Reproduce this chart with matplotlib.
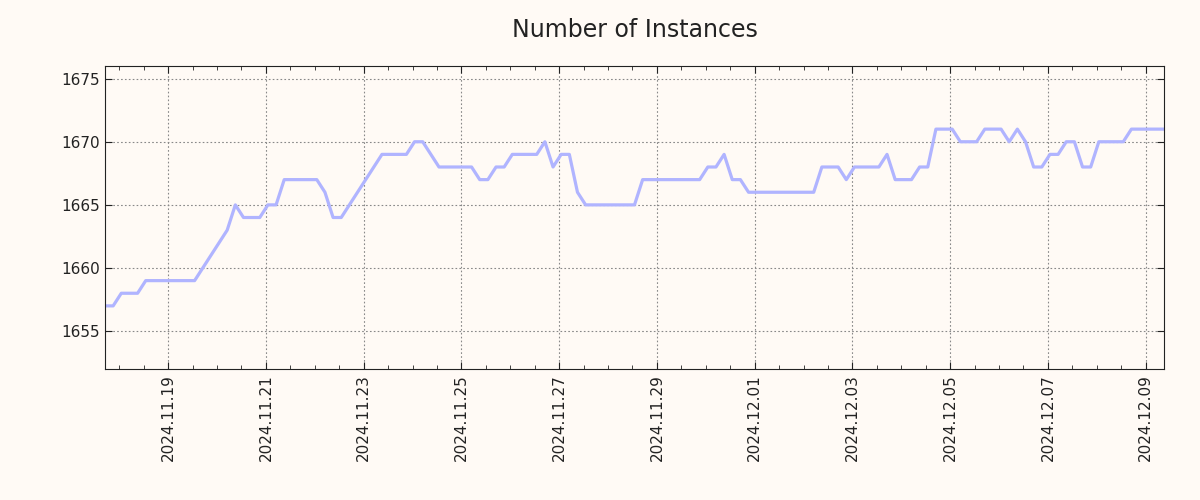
import pandas as pd
import matplotlib
matplotlib.use("Agg")
import matplotlib.pyplot as plt
import matplotlib.dates as mdates

# instance count, sampled every 4 hours
start = "2024-11-17 17:00"
instances = [
    1657, 1657, 1658, 1658, 1658, 1659, 1659, 1659, 1659, 1659, 1659, 1659,
    1660, 1661, 1662, 1663, 1665, 1664, 1664, 1664, 1665, 1665,
    1667, 1667, 1667, 1667, 1667, 1666, 1664, 1664,
    1665, 1666, 1667, 1668, 1669, 1669, 1669, 1669, 1670, 1670, 1669,
    1668, 1668, 1668, 1668, 1668, 1667, 1667, 1668, 1668,
    1669, 1669, 1669, 1669, 1670, 1668, 1669, 1669, 1666,
    1665, 1665, 1665, 1665, 1665, 1665, 1665,
    1667, 1667, 1667, 1667, 1667, 1667, 1667, 1667, 1668, 1668, 1669, 1667, 1667,
    1666, 1666, 1666, 1666, 1666, 1666, 1666, 1666, 1666,
    1668, 1668, 1668, 1667, 1668, 1668, 1668, 1668, 1669, 1667, 1667, 1667,
    1668, 1668, 1671, 1671, 1671, 1670, 1670, 1670, 1671, 1671, 1671,
    1670, 1671, 1670, 1668, 1668, 1669, 1669, 1670, 1670, 1668, 1668,
    1670, 1670, 1670, 1670, 1671, 1671, 1671, 1671, 1671,
]
times = pd.date_range(start, periods=len(instances), freq="4h")

bg = "#fffaf5"
fig = plt.figure(figsize=(12, 5), dpi=100, facecolor=bg)
ax = fig.add_axes([0.0875, 0.262, 0.8825, 0.606], facecolor=bg)

ax.plot(times, instances, color="#b0b4ff", linewidth=2.3)

ax.set_xlim(times[0], times[-1])
ax.set_ylim(1652, 1676)
ax.set_yticks([1655, 1660, 1665, 1670, 1675])

ax.xaxis.set_major_locator(mdates.DayLocator(bymonthday=range(1, 32, 2)))
ax.xaxis.set_minor_locator(mdates.HourLocator(byhour=[0, 12]))
ax.xaxis.set_major_formatter(mdates.DateFormatter("%Y.%m.%d"))

ax.grid(True, which="major", color="#888888", linestyle=(0, (1.5, 2)), linewidth=0.8)
ax.tick_params(which="both", direction="in", top=True, right=True,
               colors="#222222", labelsize=11)
ax.tick_params(which="major", length=5)
ax.tick_params(which="minor", length=3)
for lab in ax.get_xticklabels():
    lab.set_rotation(90)
for s in ax.spines.values():
    s.set_color("#222222")

ax.set_title("Number of Instances", fontsize=17, color="#222222", pad=21)

fig.savefig("out.png", facecolor=bg)
